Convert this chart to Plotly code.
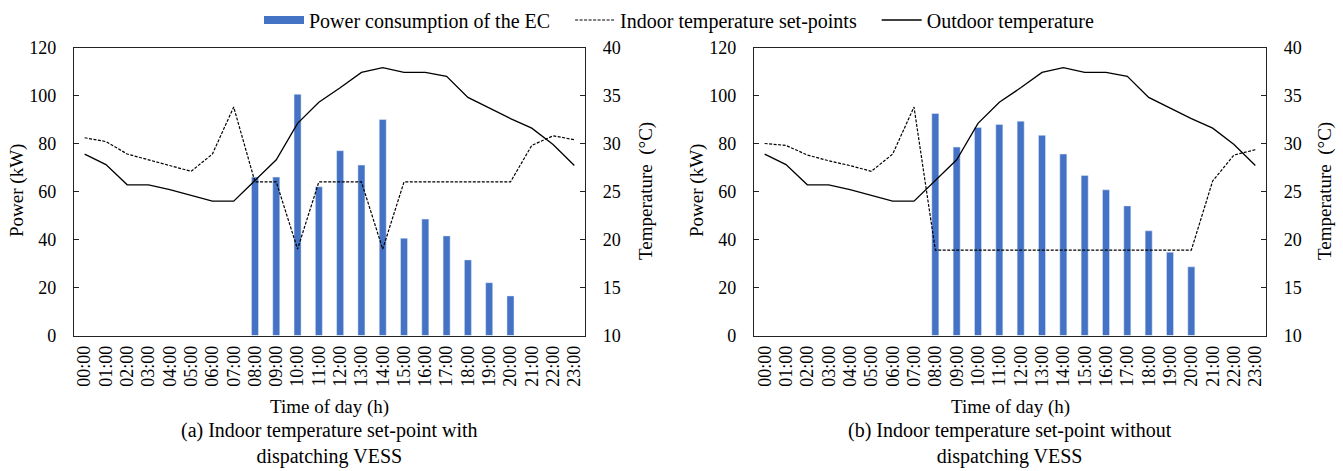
import plotly.graph_objects as go

hours = [f"{h:02d}:00" for h in range(24)]

# (a) with dispatching VESS
power_a = [None]*8 + [66, 66, 100.5, 62, 77, 71, 90, 40.5, 48.5, 41.5, 31.5, 22, 16.5] + [None]*3
indoor_a = [30.6, 30.2, 28.9, 28.3, 27.7, 27.1, 28.9, 33.8, 26.0, 26.0, 19.0, 26.0,
            26.0, 26.0, 19.0, 26.0, 26.0, 26.0, 26.0, 26.0, 26.0, 29.8, 30.8, 30.4]
outdoor_a = [28.9, 27.8, 25.7, 25.7, 25.2, 24.6, 24.0, 24.0, 26.1, 28.3, 32.1, 34.3,
             35.8, 37.4, 37.9, 37.4, 37.4, 37.0, 34.8, 33.7, 32.6, 31.6, 29.9, 27.7]

# (b) without dispatching VESS
power_b = [None]*8 + [92.5, 78.5, 86.7, 87.9, 89.3, 83.4, 75.6, 66.7, 60.7, 54.0, 43.6, 34.7, 28.6] + [None]*3
indoor_b = [30.0, 29.8, 28.8, 28.2, 27.7, 27.1, 28.9, 33.8, 18.9, 18.9, 18.9, 18.9,
            18.9, 18.9, 18.9, 18.9, 18.9, 18.9, 18.9, 18.9, 18.9, 26.1, 28.8, 29.35]
outdoor_b = [28.9, 27.8, 25.7, 25.7, 25.2, 24.6, 24.0, 24.0, 26.1, 28.3, 32.1, 34.3,
             35.8, 37.4, 37.9, 37.4, 37.4, 37.0, 34.8, 33.7, 32.6, 31.6, 29.9, 27.7]

names = ["Power consumption of the EC", "Indoor temperature set-points", "Outdoor temperature"]
subtitles = ["(a) Indoor temperature set-point with<br>dispatching VESS",
             "(b) Indoor temperature set-point without<br>dispatching VESS"]

FONT = "Liberation Serif"
BLUE = "#4472C4"
W, H = 1343, 471
PAD = "\u00a0\u00a0\u00a0"

fig = go.Figure()

# legend proxy for bars (wide rectangle look)
fig.add_trace(go.Scatter(x=[None], y=[None], mode="lines", name=names[0] + PAD,
                         line=dict(color=BLUE, width=8), xaxis="x", yaxis="y"))

panels = [("x", "y", "y2", power_a, indoor_a, outdoor_a, True),
          ("x2", "y3", "y4", power_b, indoor_b, outdoor_b, False)]
for xa, yp, yt, pw, ind, outd, leg in panels:
    fig.add_trace(go.Bar(x=hours, y=pw, marker_color=BLUE, width=0.33,
                         xaxis=xa, yaxis=yp, showlegend=False, name=names[0]))
    fig.add_trace(go.Scatter(x=hours, y=ind, mode="lines", name=names[1] + PAD,
                             line=dict(color="black", width=1.2, dash="3px,1.5px"),
                             xaxis=xa, yaxis=yt, showlegend=leg))
    fig.add_trace(go.Scatter(x=hours, y=outd, mode="lines", name=names[2],
                             line=dict(color="black", width=1.3),
                             xaxis=xa, yaxis=yt, showlegend=leg))

ydom = [(H - 335.5) / H, (H - 47.5) / H]
xdoms = [[74 / W, 585 / W], [754 / W, 1266 / W]]
tickfont = dict(family=FONT, size=18, color="black")
axcol = "#222"

def xaxis(dom, anchor):
    return dict(domain=dom, anchor=anchor, type="category", showline=True, linecolor=axcol,
                linewidth=1.2, mirror=True, ticks="", tickangle=-90, tickfont=tickfont,
                tickmode="array", tickvals=hours, ticktext=hours, automargin=False,
                showgrid=False, zeroline=False, ticklabelstandoff=2)

def yleft(anchor):
    return dict(domain=ydom, anchor=anchor, range=[0, 120], dtick=20, showline=True,
                linecolor=axcol, linewidth=1.2, ticks="inside", ticklen=5, tickcolor=axcol,
                tickfont=tickfont, showgrid=False, zeroline=False, ticklabelstandoff=13,
                automargin=False)

def yright(anchor, over):
    return dict(domain=ydom, anchor=anchor, overlaying=over, side="right", range=[10, 40],
                dtick=5, showline=True, linecolor=axcol, linewidth=1.2, ticks="inside",
                ticklen=5, tickcolor=axcol, tickfont=tickfont, showgrid=False,
                zeroline=False, ticklabelstandoff=13, automargin=False)

annotations = []
titlefont = dict(family=FONT, size=19, color="black")
subfont = dict(family=FONT, size=20, color="black")
for i, (dom, pxl, pxr) in enumerate(zip(xdoms, [17, 697], [646, 1325])):
    cx = (dom[0] + dom[1]) / 2
    annotations.append(dict(text="Time of day (h)", x=cx, y=1 - 407 / H, xref="paper", yref="paper",
                            showarrow=False, font=titlefont, xanchor="center", yanchor="middle"))
    annotations.append(dict(text=subtitles[i], x=cx, y=1 - 443 / H, xref="paper", yref="paper",
                            showarrow=False, font=subfont, xanchor="center", yanchor="middle"))
    annotations.append(dict(text="Power (kW)", x=pxl / W, y=1 - 191 / H, xref="paper", yref="paper",
                            showarrow=False, font=titlefont, textangle=-90,
                            xanchor="center", yanchor="middle"))
    annotations.append(dict(text="Temperature\u00a0 (°C)", x=pxr / W, y=1 - 191 / H, xref="paper",
                            yref="paper", showarrow=False, font=titlefont, textangle=-90,
                            xanchor="center", yanchor="middle"))

fig.update_layout(
    width=W, height=H,
    margin=dict(l=0, r=0, t=0, b=0, pad=0, autoexpand=False),
    paper_bgcolor="white", plot_bgcolor="white",
    font=dict(family=FONT, color="black"),
    barmode="overlay",
    xaxis=xaxis(xdoms[0], "y"),
    yaxis=yleft("x"),
    yaxis2=yright("x", "y"),
    xaxis2=xaxis(xdoms[1], "y3"),
    yaxis3=yleft("x2"),
    yaxis4=yright("x2", "y3"),
    legend=dict(orientation="h", x=679 / W, xanchor="center", y=1 - 20 / H, yanchor="middle",
                font=dict(family=FONT, size=20, color="black"), bgcolor="rgba(0,0,0,0)",
                itemwidth=40, tracegroupgap=0),
    annotations=annotations,
)

fig.write_html("out.html")
